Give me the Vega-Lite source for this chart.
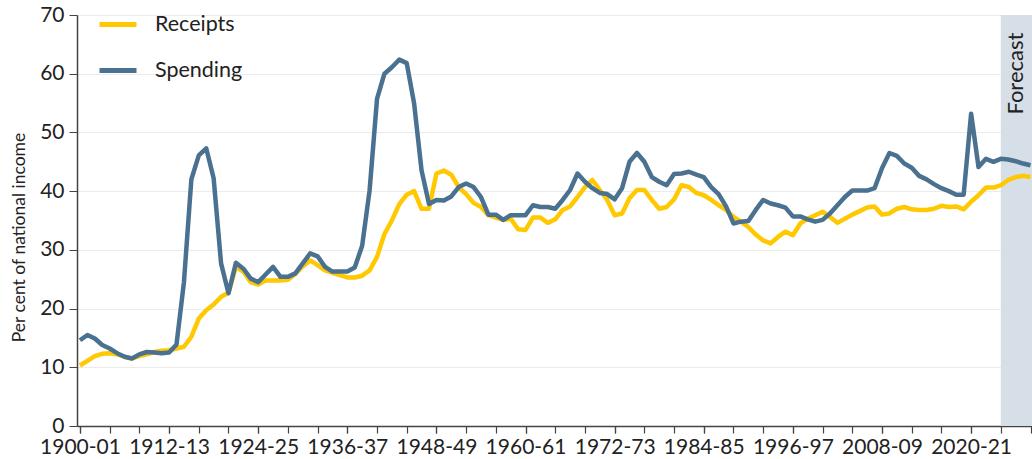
{
  "$schema": "https://vega.github.io/schema/vega-lite/v6.json",
  "width": 955,
  "height": 411,
  "autosize": {"type": "none"},
  "padding": {"left": 77, "top": 15, "right": 0, "bottom": 33},
  "background": "white",
  "config": {
    "font": "Lato",
    "view": {"stroke": null},
    "axis": {"labelFont": "Lato", "titleFont": "Lato"},
    "legend": {"labelFont": "Lato"}
  },
  "resolve": {"scale": {"x": "shared", "y": "shared"}, "axis": {"x": "independent"}},
  "datasets": {
    "fiscal": [
      {"year":1900,"Receipts":10.3,"Spending":14.6},
      {"year":1901,"Receipts":11.1,"Spending":15.5},
      {"year":1902,"Receipts":11.9,"Spending":14.9},
      {"year":1903,"Receipts":12.3,"Spending":13.8},
      {"year":1904,"Receipts":12.4,"Spending":13.2},
      {"year":1905,"Receipts":12.2,"Spending":12.4},
      {"year":1906,"Receipts":11.8,"Spending":11.8},
      {"year":1907,"Receipts":11.5,"Spending":11.5},
      {"year":1908,"Receipts":11.9,"Spending":12.2},
      {"year":1909,"Receipts":12.2,"Spending":12.6},
      {"year":1910,"Receipts":12.6,"Spending":12.5},
      {"year":1911,"Receipts":12.8,"Spending":12.4},
      {"year":1912,"Receipts":12.9,"Spending":12.5},
      {"year":1913,"Receipts":13.2,"Spending":13.9},
      {"year":1914,"Receipts":13.5,"Spending":24.5},
      {"year":1915,"Receipts":15.2,"Spending":42.0},
      {"year":1916,"Receipts":18.3,"Spending":46.1},
      {"year":1917,"Receipts":19.7,"Spending":47.3},
      {"year":1918,"Receipts":20.7,"Spending":42.2},
      {"year":1919,"Receipts":22.0,"Spending":27.7},
      {"year":1920,"Receipts":22.7,"Spending":22.6},
      {"year":1921,"Receipts":27.1,"Spending":27.8},
      {"year":1922,"Receipts":26.3,"Spending":26.8},
      {"year":1923,"Receipts":24.5,"Spending":25.1},
      {"year":1924,"Receipts":24.1,"Spending":24.5},
      {"year":1925,"Receipts":24.8,"Spending":25.8},
      {"year":1926,"Receipts":24.8,"Spending":27.1},
      {"year":1927,"Receipts":24.8,"Spending":25.4},
      {"year":1928,"Receipts":24.9,"Spending":25.4},
      {"year":1929,"Receipts":25.9,"Spending":26.0},
      {"year":1930,"Receipts":27.2,"Spending":27.7},
      {"year":1931,"Receipts":28.2,"Spending":29.4},
      {"year":1932,"Receipts":27.4,"Spending":28.9},
      {"year":1933,"Receipts":26.5,"Spending":27.1},
      {"year":1934,"Receipts":26.1,"Spending":26.3},
      {"year":1935,"Receipts":25.7,"Spending":26.3},
      {"year":1936,"Receipts":25.3,"Spending":26.3},
      {"year":1937,"Receipts":25.3,"Spending":27.0},
      {"year":1938,"Receipts":25.6,"Spending":30.7},
      {"year":1939,"Receipts":26.5,"Spending":40.1},
      {"year":1940,"Receipts":28.8,"Spending":55.7},
      {"year":1941,"Receipts":32.7,"Spending":60.0},
      {"year":1942,"Receipts":35.0,"Spending":61.1},
      {"year":1943,"Receipts":37.8,"Spending":62.4},
      {"year":1944,"Receipts":39.4,"Spending":61.8},
      {"year":1945,"Receipts":40.0,"Spending":54.9},
      {"year":1946,"Receipts":37.0,"Spending":43.5},
      {"year":1947,"Receipts":37.0,"Spending":37.8},
      {"year":1948,"Receipts":43.0,"Spending":38.5},
      {"year":1949,"Receipts":43.5,"Spending":38.4},
      {"year":1950,"Receipts":42.8,"Spending":39.1},
      {"year":1951,"Receipts":40.7,"Spending":40.7},
      {"year":1952,"Receipts":39.5,"Spending":41.3},
      {"year":1953,"Receipts":38.0,"Spending":40.7},
      {"year":1954,"Receipts":37.3,"Spending":39.0},
      {"year":1955,"Receipts":35.9,"Spending":36.0},
      {"year":1956,"Receipts":35.5,"Spending":36.0},
      {"year":1957,"Receipts":35.1,"Spending":35.1},
      {"year":1958,"Receipts":35.3,"Spending":35.9},
      {"year":1959,"Receipts":33.5,"Spending":35.9},
      {"year":1960,"Receipts":33.4,"Spending":35.9},
      {"year":1961,"Receipts":35.5,"Spending":37.6},
      {"year":1962,"Receipts":35.5,"Spending":37.3},
      {"year":1963,"Receipts":34.6,"Spending":37.3},
      {"year":1964,"Receipts":35.2,"Spending":37.0},
      {"year":1965,"Receipts":36.8,"Spending":38.5},
      {"year":1966,"Receipts":37.4,"Spending":40.2},
      {"year":1967,"Receipts":39.0,"Spending":43.0},
      {"year":1968,"Receipts":40.7,"Spending":41.6},
      {"year":1969,"Receipts":41.9,"Spending":40.5},
      {"year":1970,"Receipts":40.2,"Spending":39.7},
      {"year":1971,"Receipts":38.5,"Spending":39.5},
      {"year":1972,"Receipts":35.9,"Spending":38.6},
      {"year":1973,"Receipts":36.2,"Spending":40.5},
      {"year":1974,"Receipts":38.8,"Spending":45.0},
      {"year":1975,"Receipts":40.2,"Spending":46.5},
      {"year":1976,"Receipts":40.2,"Spending":45.0},
      {"year":1977,"Receipts":38.5,"Spending":42.4},
      {"year":1978,"Receipts":37.0,"Spending":41.6},
      {"year":1979,"Receipts":37.3,"Spending":41.0},
      {"year":1980,"Receipts":38.6,"Spending":42.9},
      {"year":1981,"Receipts":41.0,"Spending":43.0},
      {"year":1982,"Receipts":40.7,"Spending":43.3},
      {"year":1983,"Receipts":39.7,"Spending":42.8},
      {"year":1984,"Receipts":39.3,"Spending":42.4},
      {"year":1985,"Receipts":38.5,"Spending":40.7},
      {"year":1986,"Receipts":37.6,"Spending":39.5},
      {"year":1987,"Receipts":36.8,"Spending":37.4},
      {"year":1988,"Receipts":35.6,"Spending":34.5},
      {"year":1989,"Receipts":34.8,"Spending":34.8},
      {"year":1990,"Receipts":33.9,"Spending":34.9},
      {"year":1991,"Receipts":32.6,"Spending":36.8},
      {"year":1992,"Receipts":31.6,"Spending":38.5},
      {"year":1993,"Receipts":31.1,"Spending":37.9},
      {"year":1994,"Receipts":32.2,"Spending":37.6},
      {"year":1995,"Receipts":33.1,"Spending":37.2},
      {"year":1996,"Receipts":32.5,"Spending":35.7},
      {"year":1997,"Receipts":34.5,"Spending":35.7},
      {"year":1998,"Receipts":35.3,"Spending":35.2},
      {"year":1999,"Receipts":35.9,"Spending":34.8},
      {"year":2000,"Receipts":36.5,"Spending":35.1},
      {"year":2001,"Receipts":35.6,"Spending":36.2},
      {"year":2002,"Receipts":34.6,"Spending":37.6},
      {"year":2003,"Receipts":35.3,"Spending":39.0},
      {"year":2004,"Receipts":36.0,"Spending":40.1},
      {"year":2005,"Receipts":36.6,"Spending":40.1},
      {"year":2006,"Receipts":37.2,"Spending":40.1},
      {"year":2007,"Receipts":37.4,"Spending":40.5},
      {"year":2008,"Receipts":36.0,"Spending":43.9},
      {"year":2009,"Receipts":36.2,"Spending":46.5},
      {"year":2010,"Receipts":37.0,"Spending":46.0},
      {"year":2011,"Receipts":37.3,"Spending":44.7},
      {"year":2012,"Receipts":36.9,"Spending":44.0},
      {"year":2013,"Receipts":36.8,"Spending":42.6},
      {"year":2014,"Receipts":36.8,"Spending":42.0},
      {"year":2015,"Receipts":37.0,"Spending":41.2},
      {"year":2016,"Receipts":37.5,"Spending":40.5},
      {"year":2017,"Receipts":37.3,"Spending":40.0},
      {"year":2018,"Receipts":37.4,"Spending":39.4},
      {"year":2019,"Receipts":36.9,"Spending":39.4},
      {"year":2020,"Receipts":38.2,"Spending":53.2},
      {"year":2021,"Receipts":39.3,"Spending":44.1},
      {"year":2022,"Receipts":40.6,"Spending":45.5},
      {"year":2023,"Receipts":40.6,"Spending":45.0},
      {"year":2024,"Receipts":41.0,"Spending":45.5},
      {"year":2025,"Receipts":41.9,"Spending":45.4},
      {"year":2026,"Receipts":42.4,"Spending":45.1},
      {"year":2027,"Receipts":42.6,"Spending":44.7},
      {"year":2028,"Receipts":42.4,"Spending":44.4}
    ],
    "forecast": [
      {"start": 2024, "end": 2028.2, "label": "Forecast"}
    ]
  },
  "layer": [
    {
      "data": {"name": "forecast"},
      "mark": {"type": "rect", "color": "#d6dfe7"},
      "encoding": {
        "x": {
          "field": "start",
          "type": "quantitative",
          "scale": {"domain": [1899.6, 2028.2], "nice": false, "zero": false},
          "axis": {
            "orient": "bottom",
            "title": null,
            "grid": false,
            "labels": false,
            "domain": false,
            "values": [1900,1904,1908,1912,1916,1920,1924,1928,1932,1936,1940,1944,1948,1952,1956,1960,1964,1968,1972,1976,1980,1984,1988,1992,1996,2000,2004,2008,2012,2016,2020,2024,2028],
            "tickSize": 7,
            "tickColor": "#444444",
            "tickWidth": 1.2
          }
        },
        "x2": {"field": "end"}
      }
    },
    {
      "data": {"name": "fiscal"},
      "transform": [{"fold": ["Receipts", "Spending"], "as": ["series", "value"]}],
      "mark": {"type": "line", "strokeWidth": 4.5, "strokeJoin": "round", "clip": true},
      "encoding": {
        "x": {
          "field": "year",
          "type": "quantitative",
          "scale": {"domain": [1899.6, 2028.2], "nice": false, "zero": false},
          "axis": {
            "orient": "bottom",
            "title": null,
            "grid": false,
            "values": [1900,1912,1924,1936,1948,1960,1972,1984,1996,2008,2020],
            "labelExpr": "datum.value + '-' + format((datum.value + 1) % 100, '02d')",
            "labelFlush": false,
            "labelOverlap": false,
            "labelFontSize": 21,
            "labelColor": "#222222",
            "labelPadding": 3,
            "tickSize": 7,
            "tickWidth": 1.2,
            "tickColor": "#444444",
            "domainColor": "#444444",
            "domainWidth": 1.5
          }
        },
        "y": {
          "field": "value",
          "type": "quantitative",
          "scale": {"domain": [0, 70], "nice": false},
          "axis": {
            "title": "Per cent of national income",
            "titleFontSize": 17.5,
            "titleFontWeight": "normal",
            "titleColor": "#222222",
            "titleX": -58,
            "titleY": 222,
            "titleBaseline": "middle",
            "values": [0,10,20,30,40,50,60,70],
            "grid": true,
            "gridColor": "#ebebeb",
            "gridWidth": 1.2,
            "labelFontSize": 21,
            "labelColor": "#222222",
            "labelPadding": 5,
            "tickSize": 8,
            "tickColor": "#444444",
            "domainColor": "#444444",
            "domainWidth": 1.5
          }
        },
        "color": {
          "field": "series",
          "type": "nominal",
          "scale": {"domain": ["Receipts", "Spending"], "range": ["#ffc800", "#4a7190"]},
          "legend": {
            "title": null,
            "orient": "none",
            "legendX": 20,
            "legendY": -11.5,
            "padding": 0,
            "symbolType": "stroke",
            "symbolSize": 1369,
            "symbolStrokeWidth": 5,
            "labelFontSize": 21.5,
            "labelColor": "#222222",
            "labelOffset": 16,
            "rowPadding": 14
          }
        }
      }
    },
    {
      "data": {"name": "forecast"},
      "mark": {"type": "text", "angle": 270, "align": "right", "baseline": "middle", "fontSize": 22, "color": "#222222", "font": "Lato"},
      "encoding": {
        "text": {"field": "label"},
        "x": {"datum": 2026.1, "type": "quantitative", "axis": null},
        "y": {"datum": 67, "type": "quantitative"}
      }
    }
  ]
}
